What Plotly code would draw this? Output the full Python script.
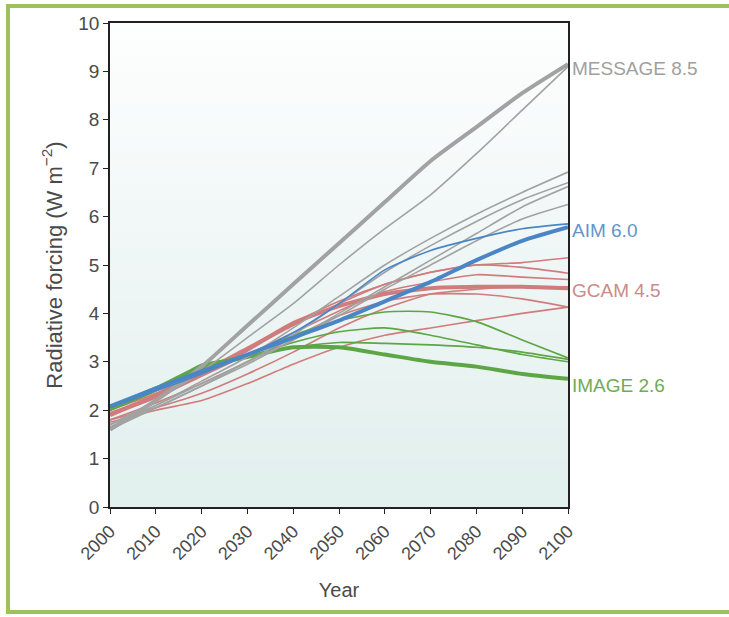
import plotly.graph_objects as go

years = [2000, 2010, 2020, 2030, 2040, 2050, 2060, 2070, 2080, 2090, 2100]

# MESSAGE 8.5 (grey)
message_main = [1.60, 2.20, 2.90, 3.75, 4.60, 5.45, 6.30, 7.15, 7.85, 8.55, 9.15]
grey_thin = [
    [1.70, 2.20, 2.80, 3.50, 4.20, 5.00, 5.75, 6.45, 7.30, 8.20, 9.10],
    [1.65, 2.10, 2.60, 3.10, 3.70, 4.35, 5.00, 5.55, 6.05, 6.50, 6.92],
    [1.60, 2.05, 2.50, 3.00, 3.55, 4.20, 4.85, 5.40, 5.90, 6.35, 6.70],
    [1.70, 2.10, 2.55, 3.00, 3.45, 4.00, 4.55, 5.10, 5.65, 6.20, 6.62],
    [1.65, 2.05, 2.50, 2.95, 3.45, 3.95, 4.50, 5.00, 5.50, 5.95, 6.25],
]

# GCAM 4.5 (red)
gcam_main = [1.90, 2.30, 2.75, 3.25, 3.80, 4.15, 4.40, 4.52, 4.55, 4.55, 4.52]
red_thin = [
    [2.00, 2.35, 2.80, 3.30, 3.80, 4.25, 4.60, 4.85, 5.00, 5.05, 5.15],
    [1.95, 2.30, 2.75, 3.25, 3.75, 4.20, 4.60, 4.85, 5.00, 4.95, 4.83],
    [1.90, 2.25, 2.70, 3.15, 3.60, 4.05, 4.45, 4.65, 4.80, 4.75, 4.70],
    [1.80, 2.15, 2.55, 3.00, 3.50, 3.95, 4.25, 4.40, 4.40, 4.30, 4.13],
    [1.75, 2.00, 2.20, 2.55, 2.95, 3.30, 3.55, 3.70, 3.85, 4.00, 4.13],
    [1.80, 2.05, 2.35, 2.75, 3.20, 3.70, 4.10, 4.40, 4.50, 4.55, 4.55],
]

# AIM 6.0 (blue)
aim_main = [2.08, 2.45, 2.80, 3.15, 3.50, 3.85, 4.25, 4.65, 5.10, 5.50, 5.78]
blue_thin = [
    [2.05, 2.40, 2.75, 3.15, 3.60, 4.20, 4.90, 5.30, 5.55, 5.75, 5.85],
]

# IMAGE 2.6 (green)
image_main = [2.05, 2.45, 2.90, 3.10, 3.30, 3.30, 3.15, 3.00, 2.90, 2.75, 2.65]
green_thin = [
    [2.00, 2.40, 2.90, 3.15, 3.55, 3.85, 4.03, 4.03, 3.83, 3.45, 3.08],
    [2.00, 2.40, 2.85, 3.10, 3.40, 3.62, 3.70, 3.55, 3.35, 3.15, 3.00],
    [2.00, 2.40, 2.95, 3.10, 3.30, 3.40, 3.38, 3.35, 3.30, 3.20, 3.05],
]

labels = ["MESSAGE 8.5", "AIM 6.0", "GCAM 4.5", "IMAGE 2.6"]
label_y = [9.07, 5.72, 4.48, 2.52]

GREY = "#a2a2a2"
BLUE = "#4a86c6"
RED = "#d07c7c"
GREEN = "#5da646"
label_colors = ["#a0a0a0", "#6395c8", "#cc8a8a", "#70ab55"]

fig = go.Figure()

def add(y, color, width):
    fig.add_trace(go.Scatter(x=years, y=y, mode="lines",
                             line=dict(color=color, width=width, shape="spline", smoothing=0.6),
                             showlegend=False, hoverinfo="skip"))

for s in red_thin:
    add(s, RED, 1.6)
add(gcam_main, RED, 4)
for s in green_thin:
    add(s, GREEN, 1.6)
add(image_main, GREEN, 4)
for s in grey_thin:
    add(s, GREY, 1.6)
add(message_main, GREY, 4)
for s in blue_thin:
    add(s, BLUE, 1.6)
add(aim_main, BLUE, 4)

for t, yv, c in zip(labels, label_y, label_colors):
    fig.add_annotation(x=1.004, xref="paper", y=yv, yref="y", text=t,
                       showarrow=False, xanchor="left", yanchor="middle",
                       font=dict(size=19, color=c, family="Liberation Sans, Arial"))

# gradient background in plot area
shapes = []
n = 30
top = (253, 254, 254)
bot = (226, 240, 238)
for i in range(n):
    f = i / (n - 1)
    r = int(bot[0] + (top[0] - bot[0]) * f)
    g = int(bot[1] + (top[1] - bot[1]) * f)
    b = int(bot[2] + (top[2] - bot[2]) * f)
    shapes.append(dict(type="rect", xref="x domain", yref="y domain",
                       x0=0, x1=1, y0=i / n, y1=(i + 1) / n + 0.002,
                       fillcolor=f"rgb({r},{g},{b})", line=dict(width=0), layer="below"))

# green frame around the figure (paper coordinates)
W, H = 458.0, 484.0
def px(p):
    return (p - 110) / W
def py(p):
    return (507 - p) / H
FRAME = "#9dc25c"
shapes.append(dict(type="line", xref="paper", yref="paper", x0=px(8), x1=px(8),
                   y0=py(4), y1=py(614), line=dict(color=FRAME, width=4)))
shapes.append(dict(type="line", xref="paper", yref="paper", x0=px(6), x1=px(735),
                   y0=py(6), y1=py(6), line=dict(color=FRAME, width=4)))
shapes.append(dict(type="line", xref="paper", yref="paper", x0=px(6), x1=px(735),
                   y0=py(612), y1=py(612), line=dict(color=FRAME, width=4)))

fig.update_layout(
    width=729, height=617,
    margin=dict(l=110, r=161, t=23, b=110),
    paper_bgcolor="white", plot_bgcolor="#eef6f5",
    font=dict(family="Liberation Sans, Arial", color="#4a4a4a"),
    shapes=shapes,
    showlegend=False,
)
fig.update_xaxes(range=[2000, 2100], dtick=10, tick0=2000, tickangle=-45,
                 showgrid=False, zeroline=False, showline=True, linecolor="#222222",
                 linewidth=1.5, mirror=True, ticks="outside", ticklen=5, tickcolor="#222222",
                 tickfont=dict(size=18, color="#4a4a4a"),
                 title=dict(text="Year", font=dict(size=20, color="#4a4a4a"), standoff=20))
fig.update_yaxes(range=[0, 10], dtick=1, showgrid=False, zeroline=False, showline=True,
                 linecolor="#222222", linewidth=1.5, mirror=True, ticks="outside", ticklen=5,
                 tickcolor="#222222", tickfont=dict(size=19, color="#4a4a4a"),
                 title=dict(text="Radiative forcing (W m<sup>\u22122</sup>)",
                            font=dict(size=22, color="#4a4a4a"), standoff=10))

fig.write_html("out.html", config={"displayModeBar": False},
               post_script="document.body.style.margin='0px';document.body.style.overflow='hidden';")
